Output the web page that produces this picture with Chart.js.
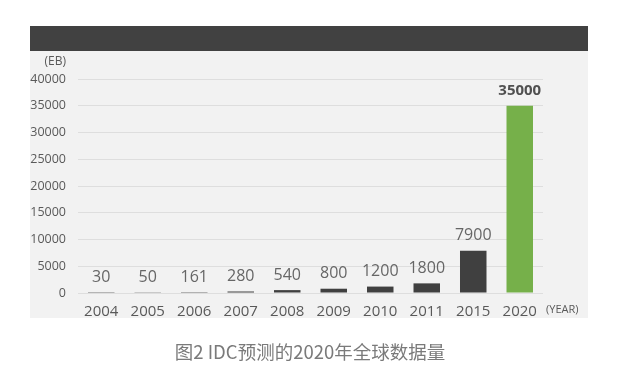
<!DOCTYPE html>
<html>
<head>
<meta charset="utf-8">
<script src="https://cdn.jsdelivr.net/npm/chart.js@4"></script>
<style>
  html, body { margin: 0; padding: 0; background: #fff; }
  #wrap { width: 620px; height: 380px; }
</style>
</head>
<body>
<div id="wrap"><canvas id="idc" width="620" height="380"></canvas></div>
<script>
const years = ['2004', '2005', '2006', '2007', '2008', '2009', '2010', '2011', '2015', '2020'];
const dataEB = [30, 50, 161, 280, 540, 800, 1200, 1800, 7900, 35000];
const barColors = ['#404040', '#404040', '#404040', '#404040', '#404040', '#404040', '#404040', '#404040', '#404040', '#76b04a'];
const caption = '图2 IDC预测的2020年全球数据量';

const fontLatin = '"Open Sans", "Noto Sans", sans-serif';

// grey panel + dark header band behind the chart
const backdrop = {
    id: 'backdrop',
    beforeDraw(chart) {
        const ctx = chart.ctx;
        ctx.save();
        ctx.fillStyle = '#f2f2f2';
        ctx.fillRect(30, 51, 558, 267);
        ctx.fillStyle = '#414141';
        ctx.fillRect(30, 26, 558, 25);
        ctx.restore();
    }
};

// value labels, units and caption
const labels = {
    id: 'labels',
    afterDatasetsDraw(chart) {
        const ctx = chart.ctx;
        const meta = chart.getDatasetMeta(0);
        ctx.save();
        ctx.textAlign = 'center';
        ctx.textBaseline = 'middle';
        meta.data.forEach((bar, i) => {
            const last = i === dataEB.length - 1;
            ctx.font = (last ? 'bold 15px ' : '16px ') + fontLatin;
            ctx.fillStyle = last ? '#505050' : '#666666';
            ctx.fillText(String(dataEB[i]), bar.x, bar.y - 15);
        });

        ctx.font = '12px ' + fontLatin;
        ctx.fillStyle = '#595959';
        ctx.textAlign = 'right';
        ctx.fillText('(EB)', 66, 62);
        ctx.font = '11px ' + fontLatin;
        ctx.textAlign = 'left';
        ctx.fillText('(YEAR)', 546, 310);

        ctx.font = '18.5px "Noto Sans CJK SC", sans-serif';
        ctx.fillStyle = '#7a7a7a';
        ctx.textAlign = 'center';
        ctx.fillText(caption, 310, 352);
        ctx.restore();
    }
};

new Chart(document.getElementById('idc').getContext('2d'), {
    type: 'bar',
    data: {
        labels: years,
        datasets: [{
            data: dataEB,
            backgroundColor: barColors,
            categoryPercentage: 1,
            barPercentage: 0.57
        }]
    },
    options: {
        responsive: false,
        animation: false,
        layout: { padding: { left: 30, right: 77, top: 79, bottom: 57 } },
        plugins: {
            legend: { display: false },
            tooltip: { enabled: false }
        },
        scales: {
            x: {
                grid: { display: false },
                border: { display: false },
                ticks: {
                    color: '#595959',
                    font: { family: fontLatin, size: 15 },
                    padding: 2
                },
                afterFit(scale) { scale.height = 30; }
            },
            y: {
                min: 0,
                max: 40000,
                ticks: {
                    stepSize: 5000,
                    color: '#595959',
                    font: { family: fontLatin, size: 12.5 },
                    padding: 12,
                    callback: v => String(v)
                },
                grid: { color: '#dedede', drawTicks: false },
                border: { display: false },
                afterFit(scale) { scale.width = 48; }
            }
        }
    },
    plugins: [backdrop, labels]
});
</script>
</body>
</html>
